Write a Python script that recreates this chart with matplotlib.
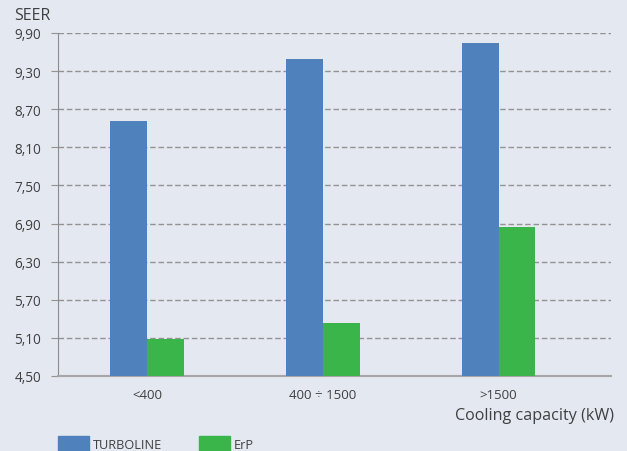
import matplotlib
matplotlib.use("Agg")
import matplotlib.pyplot as plt
from matplotlib.patches import Rectangle

categories = ["<400", "400 ÷ 1500", ">1500"]
turboline = [8.52, 9.49, 9.74]
erp = [5.08, 5.34, 6.85]
y_ticks = [4.50, 5.10, 5.70, 6.30, 6.90, 7.50, 8.10, 8.70, 9.30, 9.90]
series_names = ["TURBOLINE", "ErP"]

BG = "#e3e8f1"
BLUE = "#4f81bd"
GREEN = "#3ab54a"
TEXT = "#404040"
GRID = "#939393"

plt.rcParams['font.family'] = ['Open Sans', 'DejaVu Sans']

fig = plt.figure(figsize=(6.27, 4.52), dpi=100, facecolor=BG)
ax = fig.add_axes([58/627, 1 - 377/452, (611 - 58)/627, (377 - 34)/452])
ax.set_facecolor(BG)

x = list(range(len(categories)))
w = 0.21
ax.bar([i - w/2 for i in x], turboline, width=w, color=BLUE, zorder=3)
ax.bar([i + w/2 for i in x], erp, width=w, color=GREEN, zorder=3)

ax.set_xlim(-0.507, 2.64)
ax.set_ylim(4.5, 9.9)
ax.set_yticks(y_ticks)
ax.set_yticklabels([f"{v:.2f}".replace(".", ",") for v in y_ticks])
ax.set_xticks(x)
ax.set_xticklabels(categories)

for v in y_ticks[1:]:
    ax.axhline(v, color=GRID, lw=1, ls=(0, (4, 2)), zorder=1)

for side in ["top", "right"]:
    ax.spines[side].set_visible(False)
ax.spines["left"].set_color("#8c8c8c")
ax.spines["bottom"].set_color("#a6a6a6")
ax.spines["bottom"].set_linewidth(1.5)

ax.tick_params(axis="y", length=5, color=GRID, labelsize=9.8, labelcolor=TEXT, pad=7)
ax.tick_params(axis="x", length=0, labelsize=9.5, labelcolor=TEXT, pad=9)

fig.text(14/627, 1 - 16/452, "SEER", fontsize=11.5, color=TEXT, va="center", ha="left")
fig.text(614/627, 1 - 416/452, "Cooling capacity (kW)", fontsize=11.6, color=TEXT,
         va="center", ha="right")

# legend at bottom
for xs, name, col in [(58, series_names[0], BLUE), (199, series_names[1], GREEN)]:
    fig.patches.append(Rectangle((xs/627, 0), 31/627, 15/452, transform=fig.transFigure,
                                 color=col, figure=fig))
    fig.text((xs + 35)/627, 1 - 446/452, name, fontsize=9.2, color=TEXT, va="center", ha="left")

fig.savefig("out.png", dpi=100, facecolor=BG)
